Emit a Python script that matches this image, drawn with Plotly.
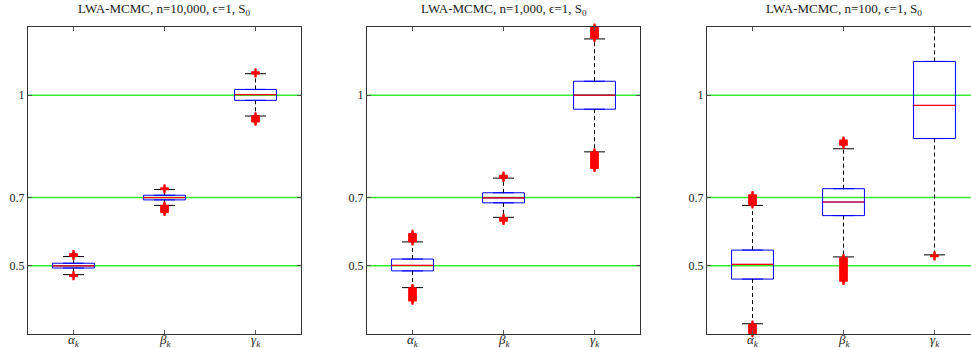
import plotly.graph_objects as go

# ---------------- data ----------------
categories = ["<i>α</i><sub><i>k</i></sub>", "<i>β</i><sub><i>k</i></sub>", "<i>γ</i><sub><i>k</i></sub>"]
cat_pos = [1, 2, 3]
titles = ["LWA-MCMC, n=10,000, ϵ=1, S<sub>0</sub>",
          "LWA-MCMC, n=1,000, ϵ=1, S<sub>0</sub>",
          "LWA-MCMC, n=100, ϵ=1, S<sub>0</sub>"]
ytick_vals = [0.5, 0.7, 1.0]
ytick_text = ["0.5", "0.7", "1"]
true_values = [0.5, 0.7, 1.0]

# panel 1: n = 10,000
p1_q1 = [0.4935, 0.6932, 0.985]
p1_med = [0.500, 0.700, 1.002]
p1_q3 = [0.5075, 0.7068, 1.017]
p1_lw = [0.474, 0.677, 0.939]
p1_uw = [0.527, 0.7235, 1.063]
p1_out_alpha = [0.470, 0.472, 0.529, 0.532, 0.534]
p1_out_beta = [0.724, 0.727, 0.676, 0.673, 0.670, 0.667, 0.664, 0.661, 0.658]
p1_out_gamma = [1.064, 1.067, 0.938, 0.935, 0.932, 0.929, 0.926, 0.923]

# panel 2: n = 1,000
p2_q1 = [0.485, 0.6845, 0.959]
p2_med = [0.501, 0.699, 1.000]
p2_q3 = [0.5197, 0.714, 1.041]
p2_lw = [0.436, 0.642, 0.834]
p2_uw = [0.570, 0.757, 1.165]
p2_out_alpha = [0.572, 0.575, 0.578, 0.581, 0.584, 0.587, 0.590, 0.593,
                0.434, 0.431, 0.428, 0.425, 0.422, 0.419, 0.416, 0.413, 0.410, 0.407, 0.404, 0.401, 0.398]
p2_out_beta = [0.758, 0.761, 0.764, 0.640, 0.637, 0.634, 0.632]
p2_out_gamma = [1.168, 1.171, 1.174, 1.177, 1.180, 1.183, 1.186, 1.189, 1.192, 1.195, 1.198, 1.201,
                0.832, 0.829, 0.826, 0.823, 0.820, 0.817, 0.814, 0.811, 0.808, 0.805, 0.802, 0.799,
                0.796, 0.793, 0.790, 0.787]

# panel 3: n = 100
p3_q1 = [0.461, 0.647, 0.873]
p3_med = [0.504, 0.687, 0.970]
p3_q3 = [0.546, 0.726, 1.099]
p3_lw = [0.330, 0.526, 0.532]
p3_uw = [0.677, 0.843, 1.250]
p3_out_alpha = [0.680, 0.683, 0.686, 0.689, 0.692, 0.695, 0.698, 0.701, 0.704, 0.707,
                0.327, 0.324, 0.321, 0.318, 0.315, 0.312, 0.309, 0.306, 0.303]
p3_out_beta = [0.855, 0.858, 0.861, 0.864, 0.867,
               0.522, 0.519, 0.516, 0.513, 0.510, 0.507, 0.504, 0.501, 0.498, 0.495, 0.492,
               0.489, 0.486, 0.483, 0.480, 0.477, 0.474, 0.471, 0.468, 0.465, 0.462, 0.459, 0.456]
p3_out_gamma = [0.528, 0.530]

panels = [
    dict(q1=p1_q1, med=p1_med, q3=p1_q3, lw=p1_lw, uw=p1_uw, out=[p1_out_alpha, p1_out_beta, p1_out_gamma]),
    dict(q1=p2_q1, med=p2_med, q3=p2_q3, lw=p2_lw, uw=p2_uw, out=[p2_out_alpha, p2_out_beta, p2_out_gamma]),
    dict(q1=p3_q1, med=p3_med, q3=p3_q3, lw=p3_lw, uw=p3_uw, out=[p3_out_alpha, p3_out_beta, p3_out_gamma]),
]

# ---------------- style ----------------
W, H = 971, 348
TOP, BOT = 27, 14
PH = H - TOP - BOT
domains = [(28 / W, 301 / W), (367 / W, 640 / W), (707 / W, 1.0)]
xranges = [[0.5, 3.5], [0.5, 3.5], [0.5, 0.5 + 264 / 91]]
BOX_HALF = 0.23
CAP_HALF = 0.115
FONT = "Liberation Serif, Times New Roman, serif"

fig = go.Figure()

for p, d in enumerate(panels):
    xa = "x" if p == 0 else f"x{p+1}"
    ya = "y" if p == 0 else f"y{p+1}"

    # whiskers (dashed)
    wx, wy = [], []
    for i, c in enumerate(cat_pos):
        wx += [c, c, None, c, c, None]
        wy += [d["q3"][i], d["uw"][i], None, d["q1"][i], d["lw"][i], None]
    fig.add_trace(go.Scatter(x=wx, y=wy, mode="lines", xaxis=xa, yaxis=ya,
                             line=dict(color="black", width=1, dash="4px,3px"),
                             hoverinfo="skip", showlegend=False))
    # caps
    cx, cy = [], []
    for i, c in enumerate(cat_pos):
        cx += [c - CAP_HALF, c + CAP_HALF, None, c - CAP_HALF, c + CAP_HALF, None]
        cy += [d["uw"][i], d["uw"][i], None, d["lw"][i], d["lw"][i], None]
    fig.add_trace(go.Scatter(x=cx, y=cy, mode="lines", xaxis=xa, yaxis=ya,
                             line=dict(color="black", width=1),
                             hoverinfo="skip", showlegend=False))
    # boxes
    fig.add_trace(go.Box(x=cat_pos, q1=d["q1"], median=d["med"], q3=d["q3"],
                         lowerfence=d["q1"], upperfence=d["q3"],
                         width=2 * BOX_HALF, xaxis=xa, yaxis=ya,
                         line=dict(color="#0000ff", width=1),
                         fillcolor="rgba(0,0,0,0)", boxpoints=False,
                         hoverinfo="skip", showlegend=False))
    # medians
    mx, my = [], []
    for i, c in enumerate(cat_pos):
        mx += [c - BOX_HALF, c + BOX_HALF, None]
        my += [d["med"][i], d["med"][i], None]
    fig.add_trace(go.Scatter(x=mx, y=my, mode="lines", xaxis=xa, yaxis=ya,
                             line=dict(color="#ff0000", width=1.2),
                             hoverinfo="skip", showlegend=False))
    # outliers
    ox, oy = [], []
    for i, c in enumerate(cat_pos):
        ox += [c] * len(d["out"][i])
        oy += d["out"][i]
    fig.add_trace(go.Scatter(x=ox, y=oy, mode="markers", xaxis=xa, yaxis=ya,
                             marker=dict(symbol="cross-thin", size=6,
                                         line=dict(color="#ff0000", width=2)),
                             hoverinfo="skip", showlegend=False, cliponaxis=False))
    # reference lines
    for v in true_values:
        fig.add_shape(type="line", xref=f"{xa} domain", yref=ya, x0=0, x1=1, y0=v, y1=v,
                      line=dict(color="#33ee33", width=1.6), layer="below")
    # title
    fig.add_annotation(text=titles[p], xref="paper", yref="paper",
                       x=(domains[p][0] + domains[p][0] + 273 / W) / 2, y=1 + 17 / PH,
                       xanchor="center", yanchor="middle", showarrow=False,
                       font=dict(family=FONT, size=13, color="#222"))
    # category labels under the x axis
    for i, c in enumerate(cat_pos):
        fig.add_annotation(text=categories[i], xref=xa, yref="paper", x=c, y=-6 / PH,
                           xanchor="center", yanchor="middle", showarrow=False,
                           borderpad=0, font=dict(family=FONT, size=13, color="#222"))

    xkey = "xaxis" if p == 0 else f"xaxis{p+1}"
    ykey = "yaxis" if p == 0 else f"yaxis{p+1}"
    fig.update_layout(**{
        xkey: dict(domain=list(domains[p]), range=xranges[p], anchor=ya,
                   tickmode="array", tickvals=cat_pos, showticklabels=False,
                   ticks="inside", ticklen=4, tickcolor="#555", showgrid=False,
                   zeroline=False, showline=True, linecolor="#333", linewidth=1,
                   mirror="ticks", automargin=False),
        ykey: dict(domain=[0, 1], range=[0.3, 1.2], anchor=xa,
                   tickmode="array", tickvals=ytick_vals, ticktext=ytick_text,
                   ticks="inside", ticklen=4, tickcolor="#555", showgrid=False,
                   zeroline=False, showline=True, linecolor="#333", linewidth=1,
                   mirror=("ticks" if p < 2 else False), automargin=False,
                   tickfont=dict(family=FONT, size=12, color="#222")),
    })

fig.update_layout(width=W, height=H, margin=dict(l=0, r=0, t=TOP, b=BOT),
                  plot_bgcolor="white", paper_bgcolor="white", showlegend=False)

fig.write_html("out.html")
